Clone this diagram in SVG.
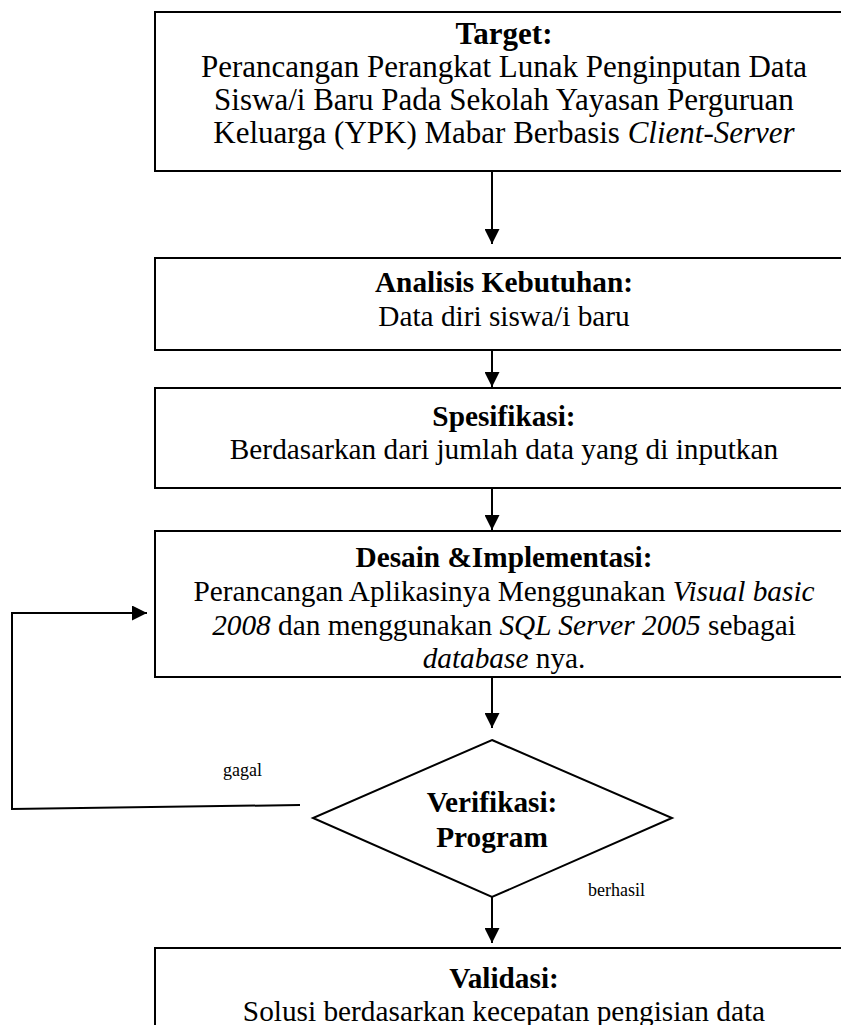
<svg xmlns="http://www.w3.org/2000/svg" width="841" height="1025" viewBox="0 0 841 1025">
<defs>
<style>
.box{fill:#fff;stroke:#000;stroke-width:2}
.t{font-family:"Liberation Serif","Times New Roman",serif;font-size:29.3px;fill:#000;text-anchor:middle}
.big{font-size:31px}
.b{font-weight:bold}
.i{font-style:italic}
.s{font-family:"Liberation Serif","Times New Roman",serif;font-size:18px;fill:#000}
.ln{fill:none;stroke:#000;stroke-width:2}
</style>
<marker id="ah" viewBox="0 0 10 10" refX="10" refY="5" markerWidth="7.5" markerHeight="7.5" markerUnits="strokeWidth" orient="auto">
<path d="M0,0 L10,5 L0,10 z" fill="#000"/>
</marker>
</defs>
<rect width="841" height="1025" fill="#fff"/>
<g id="n-target">
<rect class="box" x="155" y="12" width="700" height="159"/>
<text class="t big b" x="504" y="44">Target:</text>
<text class="t big" x="504" y="77">Perancangan Perangkat Lunak Penginputan Data</text>
<text class="t big" x="504" y="110">Siswa/i Baru Pada Sekolah Yayasan Perguruan</text>
<text class="t big" x="504" y="143">Keluarga (YPK) Mabar Berbasis <tspan class="i">Client-Server</tspan></text>
</g>
<g id="n-analisis">
<rect class="box" x="155" y="258" width="700" height="92"/>
<text class="t b" x="504" y="292">Analisis Kebutuhan:</text>
<text class="t" x="504" y="326">Data diri siswa/i baru</text>
</g>
<g id="n-spesifikasi">
<rect class="box" x="155" y="388" width="700" height="100"/>
<text class="t b" x="504" y="426">Spesifikasi:</text>
<text class="t" x="504" y="459">Berdasarkan dari jumlah data yang di inputkan</text>
</g>
<g id="n-desain">
<rect class="box" x="155" y="531" width="700" height="146"/>
<text class="t b" x="504" y="567">Desain &amp;Implementasi:</text>
<text class="t" x="504" y="601">Perancangan Aplikasinya Menggunakan <tspan class="i">Visual basic</tspan></text>
<text class="t" x="504" y="635"><tspan class="i">2008</tspan> dan menggunakan <tspan class="i">SQL Server 2005</tspan> sebagai</text>
<text class="t" x="504" y="668"><tspan class="i">database</tspan> nya.</text>
</g>
<g id="n-verifikasi">
<polygon class="box" points="492,740 672,818 492,897 313,818"/>
<text class="t b" x="492" y="812">Verifikasi:</text>
<text class="t b" x="492" y="847">Program</text>
</g>
<g id="n-validasi">
<rect class="box" x="155" y="948" width="700" height="100"/>
<text class="t b" x="504" y="988">Validasi:</text>
<text class="t" x="504" y="1021">Solusi berdasarkan kecepatan pengisian data</text>
</g>
<g id="connectors">
<line class="ln" x1="492" y1="171" x2="492" y2="244" marker-end="url(#ah)"/>
<line class="ln" x1="492" y1="350" x2="492" y2="387" marker-end="url(#ah)"/>
<line class="ln" x1="492" y1="488" x2="492" y2="530" marker-end="url(#ah)"/>
<line class="ln" x1="492" y1="677" x2="492" y2="728" marker-end="url(#ah)"/>
<line class="ln" x1="492" y1="897" x2="492" y2="943" marker-end="url(#ah)"/>
<polyline class="ln" points="300,805 12,809 12,613 147,613" marker-end="url(#ah)"/>
<text class="s" x="223" y="776">gagal</text>
<text class="s" x="588" y="896">berhasil</text>
</g>
</svg>
